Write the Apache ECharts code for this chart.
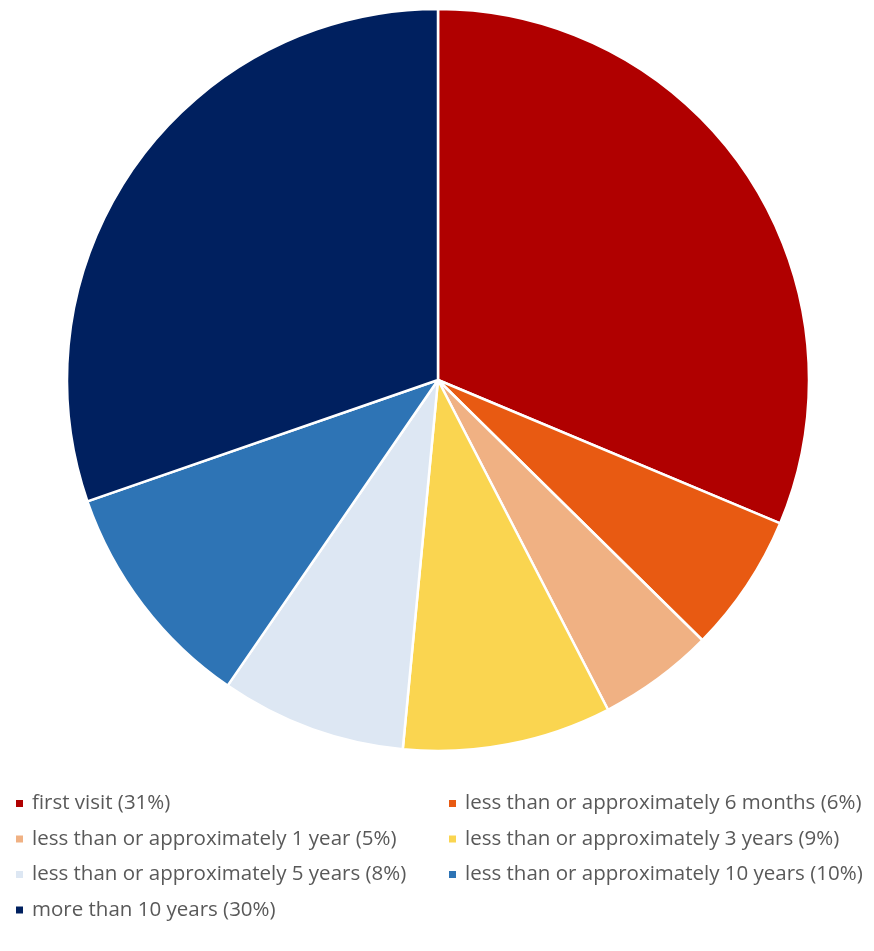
<!DOCTYPE html>
<html>
<head>
<meta charset="utf-8">
<script src="https://cdn.jsdelivr.net/npm/echarts@6/dist/echarts.min.js"></script>
<style>
  html, body { margin: 0; padding: 0; background: #fff; }
  #chart { width: 874px; height: 951px; }
</style>
</head>
<body>
<div id="chart"></div>
<script>
// Time since previous visit — share of respondents
const categories = [
  'first visit',
  'less than or approximately 6 months',
  'less than or approximately 1 year',
  'less than or approximately 3 years',
  'less than or approximately 5 years',
  'less than or approximately 10 years',
  'more than 10 years'
];
const shares = [31, 6, 5, 9, 8, 10, 30];
const colors = ['#B00000', '#E85A12', '#F0B183', '#FAD550', '#DDE7F3', '#2E74B5', '#00205F'];

const labelOf = {};
categories.forEach((c, i) => { labelOf[c] = c + ' (' + shares[i] + '%)'; });

const legendText = {
  fontFamily: 'Open Sans',
  fontSize: 20.5,
  color: '#595959',
  padding: [0, 0, 0, 3]
};

function column(left, items) {
  return {
    orient: 'vertical',
    left: left,
    top: 793,
    padding: 0,
    itemWidth: 9,
    itemHeight: 9,
    itemGap: 14.5,
    icon: 'rect',
    data: items,
    formatter: n => labelOf[n],
    textStyle: legendText
  };
}

const chart = echarts.init(document.getElementById('chart'), null, { renderer: 'canvas' });
chart.setOption({
  animation: false,
  color: colors,
  legend: [
    column(14, [categories[0], categories[2], categories[4], categories[6]]),
    column(447, [categories[1], categories[3], categories[5]])
  ],
  series: [{
    type: 'pie',
    center: [438, 380],
    radius: [0, 371],
    startAngle: 90,
    clockwise: true,
    label: { show: false },
    labelLine: { show: false },
    itemStyle: { borderColor: '#fff', borderWidth: 2.5 },
    emphasis: { disabled: true },
    data: categories.map((c, i) => ({ name: c, value: shares[i] }))
  }]
});
</script>
</body>
</html>
